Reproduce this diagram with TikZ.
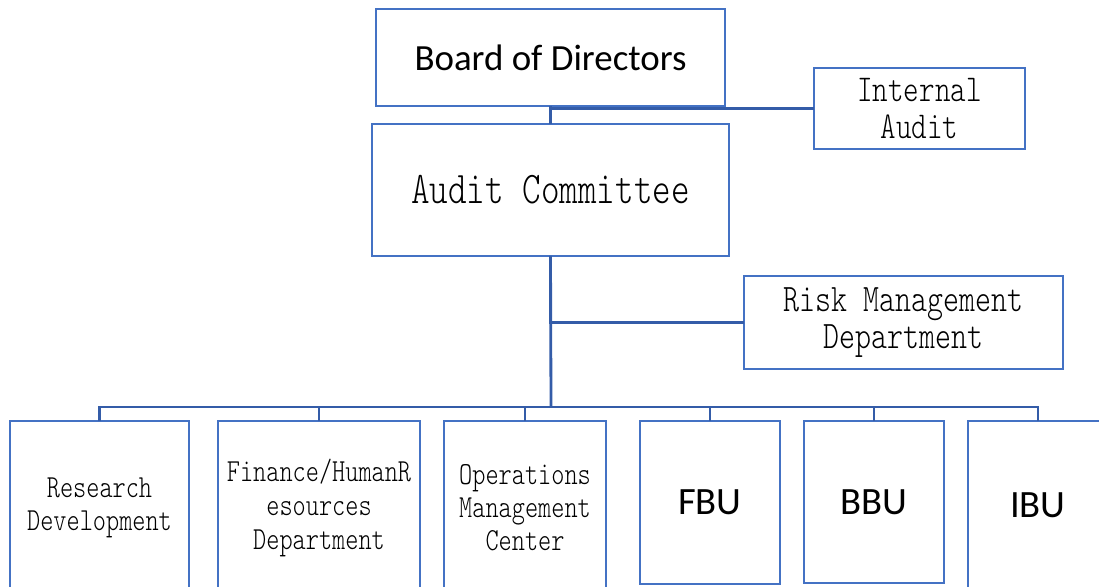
\documentclass[tikz,border=0pt]{standalone}
\usepackage{fontspec}
\setmainfont{Carlito}
\newfontfamily\simfont[Extension=.otf,FakeStretch=0.78]{lmmonolt10-regular}
\definecolor{boxblue}{RGB}{68,114,196}
\definecolor{lineblue}{RGB}{52,92,168}

\begin{document}
\begin{tikzpicture}[x=0.02cm,y=-0.02cm,
	unit/.style={draw=boxblue,line width=1.4pt,inner sep=0pt,outer sep=0pt,align=center},
	link/.style={draw=lineblue,line width=1.6pt}]
	\useasboundingbox (0,0) rectangle (1099,587);
	\clip (0,0) rectangle (1099,587);
	% top of the chart
	\node[unit,minimum width=6.98cm,minimum height=1.94cm,font=\fontsize{21}{25}\selectfont]
		(board) at (550.5,57.5) {Board of Directors};
	\node[unit,minimum width=7.14cm,minimum height=2.64cm,font=\simfont\fontsize{25.8}{27}\selectfont]
		(audit) at (550.5,190) {Audit Committee};
	\node[unit,minimum width=4.22cm,minimum height=1.62cm,font=\simfont\fontsize{21.6}{21.5}\selectfont]
		(ia) at (919.5,108.5) {Internal\\Audit};
	\node[unit,minimum width=6.38cm,minimum height=1.86cm,font=\simfont\fontsize{22.2}{21.5}\selectfont]
		(risk) at (903.5,322.5) {Risk Management\\Department};
	% departments
	\node[unit,minimum width=3.58cm,minimum height=3.48cm,font=\simfont\fontsize{18.3}{18.7}\selectfont]
		(rd) at (99.5,508) {Research\\Development};
	\node[unit,minimum width=4.04cm,minimum height=3.48cm,font=\simfont\fontsize{18.3}{19.5}\selectfont]
		(fhr) at (319,508) {Finance/HumanR\\esources\\Department};
	\node[unit,minimum width=3.24cm,minimum height=3.48cm,font=\simfont\fontsize{18.3}{18.7}\selectfont]
		(omc) at (525,508) {Operations\\Management\\Center};
	\node[unit,minimum width=2.8cm,minimum height=3.26cm,font=\fontsize{22}{26}\selectfont]
		(fbu) at (710,502.5) {FBU};
	\node[unit,minimum width=2.8cm,minimum height=3.24cm,font=\fontsize{22}{26}\selectfont]
		(bbu) at (874,502) {BBU};
	\node[unit,minimum width=2.8cm,minimum height=3.48cm,font=\fontsize{22}{26}\selectfont]
		(ibu) at (1038,508) {\raisebox{0.1cm}{IBU}};
	% connectors
	\coordinate (bus) at (551,407);
	\draw[link] (board.south) -- (audit.north);
	\draw[link] (ia.west) -| (audit.north);
	\draw[link] (audit.south) -- (bus);
	\draw[link] (risk.west) -| (audit.south);
	\foreach \u in {rd,fhr,omc,fbu,bbu,ibu}
		\draw[link] (\u.north) |- (bus);
\end{tikzpicture}
\end{document}
